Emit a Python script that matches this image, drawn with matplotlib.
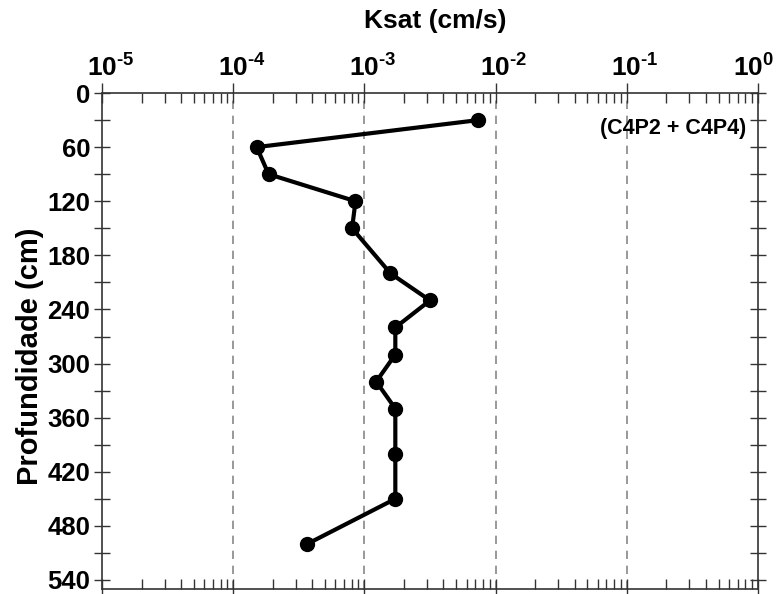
import math
import matplotlib
matplotlib.use("Agg")
import matplotlib.pyplot as plt
import matplotlib.transforms as mtransforms
from matplotlib.ticker import LogLocator, FixedLocator, FuncFormatter, NullFormatter

plt.rcParams['font.family'] = ['Liberation Sans', 'DejaVu Sans']
plt.rcParams['font.weight'] = 'bold'
plt.rcParams['mathtext.fontset'] = 'custom'
plt.rcParams['mathtext.rm'] = 'Liberation Sans:bold'
plt.rcParams['mathtext.bf'] = 'Liberation Sans:bold'

# Ksat (cm/s) vs depth (cm)
ksat = [7.4e-3, 1.51e-4, 1.86e-4, 8.55e-4, 8.05e-4, 1.58e-3, 3.16e-3,
        1.72e-3, 1.72e-3, 1.23e-3, 1.72e-3, 1.72e-3, 1.72e-3, 3.67e-4]
depth = [30, 60, 90, 120, 150, 200, 230, 260, 290, 320, 350, 400, 450, 500]
x_ticks = [1e-5, 1e-4, 1e-3, 1e-2, 1e-1, 1e0]
y_ticks = [0, 60, 120, 180, 240, 300, 360, 420, 480, 540]
label_text = "(C4P2 + C4P4)"


def pow_label(v, pos):
    e = round(math.log10(v))
    if e < 0:
        return r'$\mathbf{10^{\text{-}%d}}$' % -e
    return r'$\mathbf{10^{%d}}$' % e


fig = plt.figure(figsize=(7.83, 5.94), dpi=100)
ax = fig.add_axes([0.1303, 0.0084, 0.8378, 0.835])

ax.plot(ksat, depth, color='black', lw=3, marker='o', ms=10, zorder=3)

ax.set_xscale('log')
ax.set_xlim(1e-5, 1)
ax.set_ylim(550, 0)

# decade grid
for d in x_ticks[1:-1]:
    ax.axvline(d, color='#888888', lw=1.2, ls=(0, (5, 4)), zorder=1)

ax.xaxis.tick_top()
ax.xaxis.set_major_locator(FixedLocator(x_ticks))
ax.xaxis.set_minor_locator(LogLocator(base=10, subs=range(2, 10), numticks=20))
ax.xaxis.set_minor_formatter(NullFormatter())
ax.xaxis.set_major_formatter(FuncFormatter(pow_label))
ax.tick_params(axis='x', which='major', direction='inout', length=14, width=1,
               top=True, bottom=True, labelsize=19, pad=1, color='#333333')
ax.tick_params(axis='x', which='minor', direction='in', length=7, width=1,
               top=True, bottom=True, color='#333333')

ax.yaxis.set_major_locator(FixedLocator(y_ticks))
ax.yaxis.set_minor_locator(FixedLocator(list(range(30, 550, 60))))
ax.tick_params(axis='y', which='both', direction='inout', length=11, width=1,
               left=True, right=True, labelsize=18.5, pad=3, color='#333333')

for s in ax.spines.values():
    s.set_color('#333333')
    s.set_linewidth(1.2)

xlabels = ax.get_xticklabels()
for i, lbl in enumerate(xlabels):
    dx = -3 if i == len(xlabels) - 1 else 6
    off = mtransforms.ScaledTranslation(dx / 72, 0, fig.dpi_scale_trans)
    lbl.set_transform(lbl.get_transform() + off)

ax.xaxis.set_label_position('top')
ax.set_xlabel('Ksat (cm/s)', fontsize=19, fontweight='bold')
ax.xaxis.set_label_coords(0.508, 1.145)
ax.xaxis.label.set_va('center')

ax.set_ylabel('Profundidade (cm)', fontsize=21, fontweight='bold')
ax.yaxis.set_label_coords(-0.11, 0.47)
ax.yaxis.label.set_va('center')

ax.text(0.982, 0.929, label_text, transform=ax.transAxes, ha='right', va='center',
        fontsize=15.5, fontweight='bold')

fig.savefig('out.png', dpi=100)
